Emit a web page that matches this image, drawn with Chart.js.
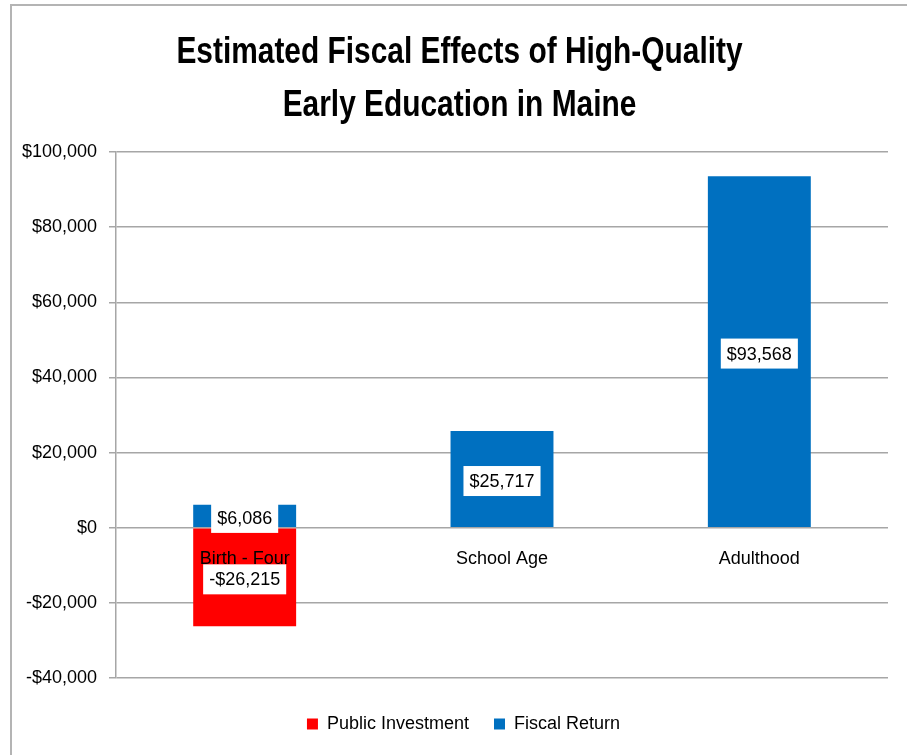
<!DOCTYPE html>
<html>
<head>
<meta charset="utf-8">
<script src="https://cdn.jsdelivr.net/npm/chart.js@4.4.0/dist/chart.umd.min.js"></script>
<style>
  html, body { margin: 0; padding: 0; background: #fff; overflow: hidden; }
  #wrap { position: relative; width: 907px; height: 755px; }
  #frame { position: absolute; left: 10px; top: 4px; width: 1000px; height: 1000px;
           border-left: 2px solid #b4b4b4; border-top: 2px solid #b4b4b4; }
  canvas { position: absolute; left: 0; top: 0; }
</style>
</head>
<body>
<div id="wrap">
  <div id="frame"></div>
  <canvas id="chart" width="907" height="755"></canvas>
</div>
<script>
// données
const categories = ['Birth - Four', 'School Age', 'Adulthood'];
const publicInvestment = [-26215, null, null];
const fiscalReturn = [6086, 25717, 93568];
const titleLines = ['Estimated Fiscal Effects of High-Quality', 'Early Education in Maine'];
const yMin = -40000, yMax = 100000, yStep = 20000;

const FONT = "'Liberation Sans', Arial, sans-serif";
const TITLE_SIZE = 36;
const TITLE_LH = 53;
const TITLE_SQUEEZE = 0.83; // police étroite façon Calibri
const LEGEND_SHIFT = 9;     // légende un peu décalée à droite comme dans Excel

const fmt = v => (v < 0 ? '-$' : '$') + Math.abs(v).toLocaleString('en-US');

// titre dessiné un peu resserré horizontalement
const narrowTitle = {
  id: 'narrowTitle',
  afterLayout(chart) {
    chart.legend.left += LEGEND_SHIFT;
    chart.legend.right += LEGEND_SHIFT;
  },
  afterDraw(chart) {
    const tb = chart.titleBlock;
    const pad = chart.options.plugins.title.padding;
    const ctx = chart.ctx;
    const cx = (tb.left + tb.right) / 2 + 5;
    ctx.save();
    ctx.font = 'bold ' + TITLE_SIZE + 'px ' + FONT;
    ctx.fillStyle = '#000';
    ctx.textAlign = 'center';
    ctx.textBaseline = 'alphabetic';
    titleLines.forEach((line, i) => {
      const y = tb.top + pad.top + TITLE_LH * i + TITLE_LH / 2 + TITLE_SIZE * 0.36;
      ctx.save();
      ctx.translate(cx, y);
      ctx.scale(TITLE_SQUEEZE, 1);
      ctx.fillText(line, 0, 0);
      ctx.restore();
    });
    ctx.restore();
  }
};

// étiquettes de valeurs avec fond blanc, au centre de chaque segment
const boxLabels = {
  id: 'boxLabels',
  afterDraw(chart) {
    const ctx = chart.ctx;
    ctx.save();
    ctx.font = '18px ' + FONT;
    ctx.textAlign = 'center';
    ctx.textBaseline = 'middle';
    chart.data.datasets.forEach((ds, i) => {
      chart.getDatasetMeta(i).data.forEach((bar, j) => {
        const v = ds.data[j];
        if (v === null || v === undefined) return;
        const txt = fmt(v);
        const w = ctx.measureText(txt).width + 12;
        const h = 30;
        const cx = bar.x;
        const cy = (bar.y + bar.base) / 2 + 2;
        ctx.fillStyle = '#fff';
        ctx.fillRect(cx - w / 2, cy - h / 2, w, h);
        ctx.fillStyle = '#000';
        ctx.fillText(txt, cx, cy + 1);
      });
    });
    ctx.restore();
  }
};

new Chart(document.getElementById('chart'), {
  type: 'bar',
  data: {
    labels: categories,
    datasets: [{
      label: 'Public Investment',
      data: publicInvestment,
      backgroundColor: '#ff0000'
    }, {
      label: 'Fiscal Return',
      data: fiscalReturn,
      backgroundColor: '#0070c0'
    }]
  },
  options: {
    responsive: false,
    animation: false,
    categoryPercentage: 1,
    barPercentage: 0.4,
    layout: { padding: { top: 0, right: 19, bottom: 12, left: 21 } },
    plugins: {
      title: {
        display: true,
        text: titleLines,
        color: 'rgba(0,0,0,0)',
        font: { family: FONT, size: TITLE_SIZE, weight: 'bold', lineHeight: TITLE_LH / TITLE_SIZE },
        padding: { top: 24, bottom: 22 }
      },
      legend: {
        position: 'bottom',
        labels: {
          color: '#000',
          font: { family: FONT, size: 18 },
          boxWidth: 11,
          boxHeight: 11,
          padding: 25
        }
      },
      tooltip: { enabled: false }
    },
    scales: {
      x: {
        stacked: true,
        position: { y: 0 },
        grid: { display: false, drawTicks: false },
        border: { display: false },
        ticks: { color: '#000', font: { family: FONT, size: 18 }, padding: 21, z: 1 }
      },
      // échelle vide en bas : garde l'écart entre le graphique et la légende
      gap: {
        type: 'category',
        position: 'bottom',
        grid: { display: false, drawTicks: false },
        border: { display: false },
        ticks: { display: false },
        afterFit(scale) { scale.height = 12; }
      },
      y: {
        stacked: true,
        min: yMin,
        max: yMax,
        afterFit(scale) { scale.width = 95; },
        grid: { color: '#a6a6a6', lineWidth: 1.5, tickLength: 7 },
        border: { color: '#a6a6a6', width: 1.5 },
        ticks: {
          stepSize: yStep,
          color: '#000',
          padding: 12,
          font: { family: FONT, size: 18 },
          callback: v => fmt(v)
        }
      }
    }
  },
  plugins: [narrowTitle, boxLabels]
});
</script>
</body>
</html>
